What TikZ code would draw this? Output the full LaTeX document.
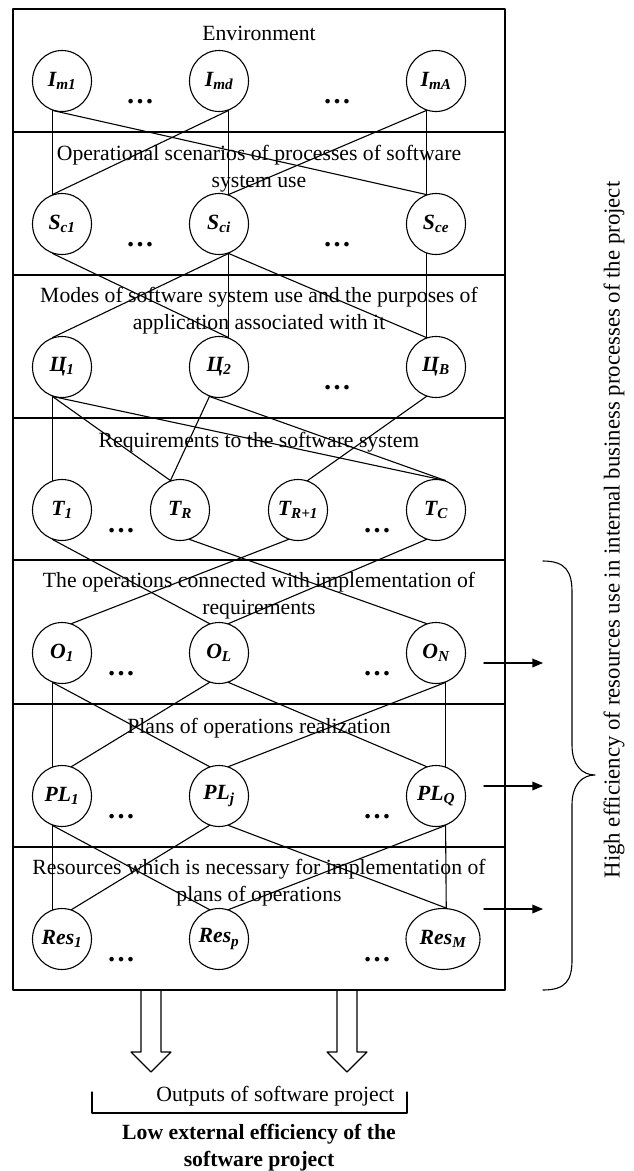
\documentclass[tikz,border=0pt]{standalone}
\usepackage{fontspec}
\setmainfont{Liberation Serif}
\usepackage{tikz}
\usetikzlibrary{arrows}
\usetikzlibrary{shapes.geometric}
\tikzstyle{every node}=[font=\fontsize{21.7}{27}\selectfont]
\tikzstyle{elem}=[draw,ellipse,line width=1.1pt,inner sep=0pt,minimum width=59pt,minimum height=61pt,font=\fontsize{21.7}{24}\selectfont\bfseries\itshape]
\tikzstyle{dots}=[anchor=base,font=\fontsize{28}{30}\selectfont\bfseries]
\tikzstyle{link}=[line width=1.1pt]
\tikzstyle{sect}=[align=center]

\begin{document}
\begin{tikzpicture}[line cap=round,line join=round,>=triangle 45,x=1pt,y=-1pt]
\clip(0,0) rectangle (633,1171);
% frame and layers
\draw[line width=1.3pt] (13,9) rectangle (505,990);
\foreach \y in {132,275,418,560,704,847}
  \draw[line width=1.3pt] (13,\y) -- (505,\y);

% layer titles
\node[sect] (envir) at (259,33) {Environment};
\node[sect] (scen) at (259,169) {Operational scenarios of processes of software\\system use};
\node[sect] (modes) at (259,311) {Modes of software system use and the purposes of\\application associated with it};
\node[sect] (reqs) at (259,442) {Requirements to the software system};
\node[sect] (opers) at (259,596) {The operations connected with implementation of\\requirements};
\node[sect] (plans) at (259,728) {Plans of operations realization};
\node[sect] (resrc) at (259,883) {Resources which is necessary for implementation of\\plans of operations};

% elements
\node[elem] (im1) at (62,81) {\raisebox{2pt}{I\textsubscript{m1}}};
\node[elem] (imd) at (219,81) {\raisebox{2pt}{I\textsubscript{md}}};
\node[elem] (imA) at (436,81) {\raisebox{2pt}{I\textsubscript{mA}}};
\node[elem] (sc1) at (62,224) {\raisebox{2pt}{S\textsubscript{c1}}};
\node[elem] (sci) at (219,224) {\raisebox{2pt}{S\textsubscript{ci}}};
\node[elem] (sce) at (436,224) {\raisebox{2pt}{S\textsubscript{ce}}};
\node[elem] (ts1) at (62,367) {\raisebox{2pt}{Ц\textsubscript{1}}};
\node[elem] (ts2) at (219,367) {\raisebox{2pt}{Ц\textsubscript{2}}};
\node[elem] (tsB) at (436,367) {\raisebox{2pt}{Ц\textsubscript{B}}};
\node[elem] (t1) at (62,510) {\raisebox{2pt}{T\textsubscript{1}}};
\node[elem] (tR) at (180,510) {\raisebox{2pt}{T\textsubscript{R}}};
\node[elem] (tR1) at (298,510) {\raisebox{2pt}{T\textsubscript{R+1}}};
\node[elem] (tC) at (436,510) {\raisebox{2pt}{T\textsubscript{C}}};
\node[elem] (o1) at (62,653) {\raisebox{2pt}{O\textsubscript{1}}};
\node[elem] (oL) at (219,653) {\raisebox{2pt}{O\textsubscript{L}}};
\node[elem] (oN) at (436,653) {\raisebox{2pt}{O\textsubscript{N}}};
\node[elem] (pl1) at (62,796) {\raisebox{2pt}{PL\textsubscript{1}}};
\node[elem] (plj) at (219,796) {\raisebox{2pt}{PL\textsubscript{j}}};
\node[elem] (plQ) at (436,796) {\raisebox{2pt}{PL\textsubscript{Q}}};
\node[elem] (res1) at (62,939) {\raisebox{2pt}{Res\textsubscript{1}}};
\node[elem] (resp) at (219,939) {\raisebox{2pt}{Res\textsubscript{p}}};
\node[elem,minimum width=74pt] (resM) at (443,939) {\raisebox{2pt}{Res\textsubscript{M}}};

% dots between elements
\foreach \x/\y in {140/103,337/103,140/246,337/246,337/389}
  \node[dots] at (\x,\y) {…};
\foreach \y in {532,675,818,961}
{
  \node[dots] at (121,\y) {…};
  \node[dots] at (377,\y) {…};
}

% links
\draw[link] (im1.252) -- (sc1.108);
\draw[link] (im1.252) -- (sce.108);
\draw[link] (imd.288) -- (sc1.108);
\draw[link] (imd.288) -- (sci.72);
\draw[link] (imA.252) -- (sci.72);
\draw[link] (imA.252) -- (sce.108);

\draw[link] (sc1.252) -- (ts2.72);
\draw[link] (sci.288) -- (ts1.108);
\draw[link] (sci.288) -- (ts2.72);
\draw[link] (sci.288) -- (tsB.108);
\draw[link] (sce.252) -- (tsB.108);

\draw[link] (ts1.252) -- (t1.108);
\draw[link] (ts1.252) -- (tR.108);
\draw[link] (ts1.252) -- (tC.72);
\draw[link] (ts2.252) -- (tR.108);
\draw[link] (ts2.252) -- (tC.72);
\draw[link] (tsB.252) -- (tR1.72);

\draw[link] (t1.252) -- (oL.108);
\draw[link] (tR.288) -- (oN.108);
\draw[link] (tR1.252) -- (o1.72);
\draw[link] (tC.252) -- (oL.72);

\draw[link] (o1.252) -- (pl1.108);
\draw[link] (o1.252) -- (plj.108);
\draw[link] (oL.252) -- (pl1.72);
\draw[link] (oL.288) -- (plQ.108);
\draw[link] (oN.288) -- (plj.72);
\draw[link] (oN.288) -- (plQ.72);

\draw[link] (pl1.252) -- (res1.108);
\draw[link] (pl1.252) -- (resp.108);
\draw[link] (plj.252) -- (res1.72);
\draw[link] (plj.288) -- (resM.84);
\draw[link] (plQ.288) -- (resp.72);
\draw[link] (plQ.288) -- (resM.84);

% efficiency of internal processes
\foreach \y in {663,786,909}
  \draw[->,line width=1.5pt] (484,\y) -- (543,\y);
\draw[link] (543,561) .. controls (566,561) and (572,572) .. (572,592) -- (572,745)
  .. controls (572,765) and (582,775) .. (595,775)
  .. controls (582,775) and (572,785) .. (572,805) -- (572,960)
  .. controls (572,980) and (566,990) .. (543,990);
\node[rotate=90,font=\fontsize{22.8}{27}\selectfont] (high) at (614,530) {High efficiency of resources use in internal business processes of the project};

% outputs
\foreach \x in {151,347}
  \draw[link] (\x-10,990) -- (\x-10,1052) -- (\x-20,1052) -- (\x,1072) -- (\x+20,1052) -- (\x+10,1052) -- (\x+10,990);
\draw[link] (92,1092) -- (92,1113) -- (407,1113) -- (407,1092);
\node[anchor=base east] (outp) at (398,1101) {Outputs of software project};
\node[align=center,font=\fontsize{21.7}{27}\selectfont\bfseries] (low) at (259,1148) {Low external efficiency of the\\software project};
\end{tikzpicture}
\end{document}
